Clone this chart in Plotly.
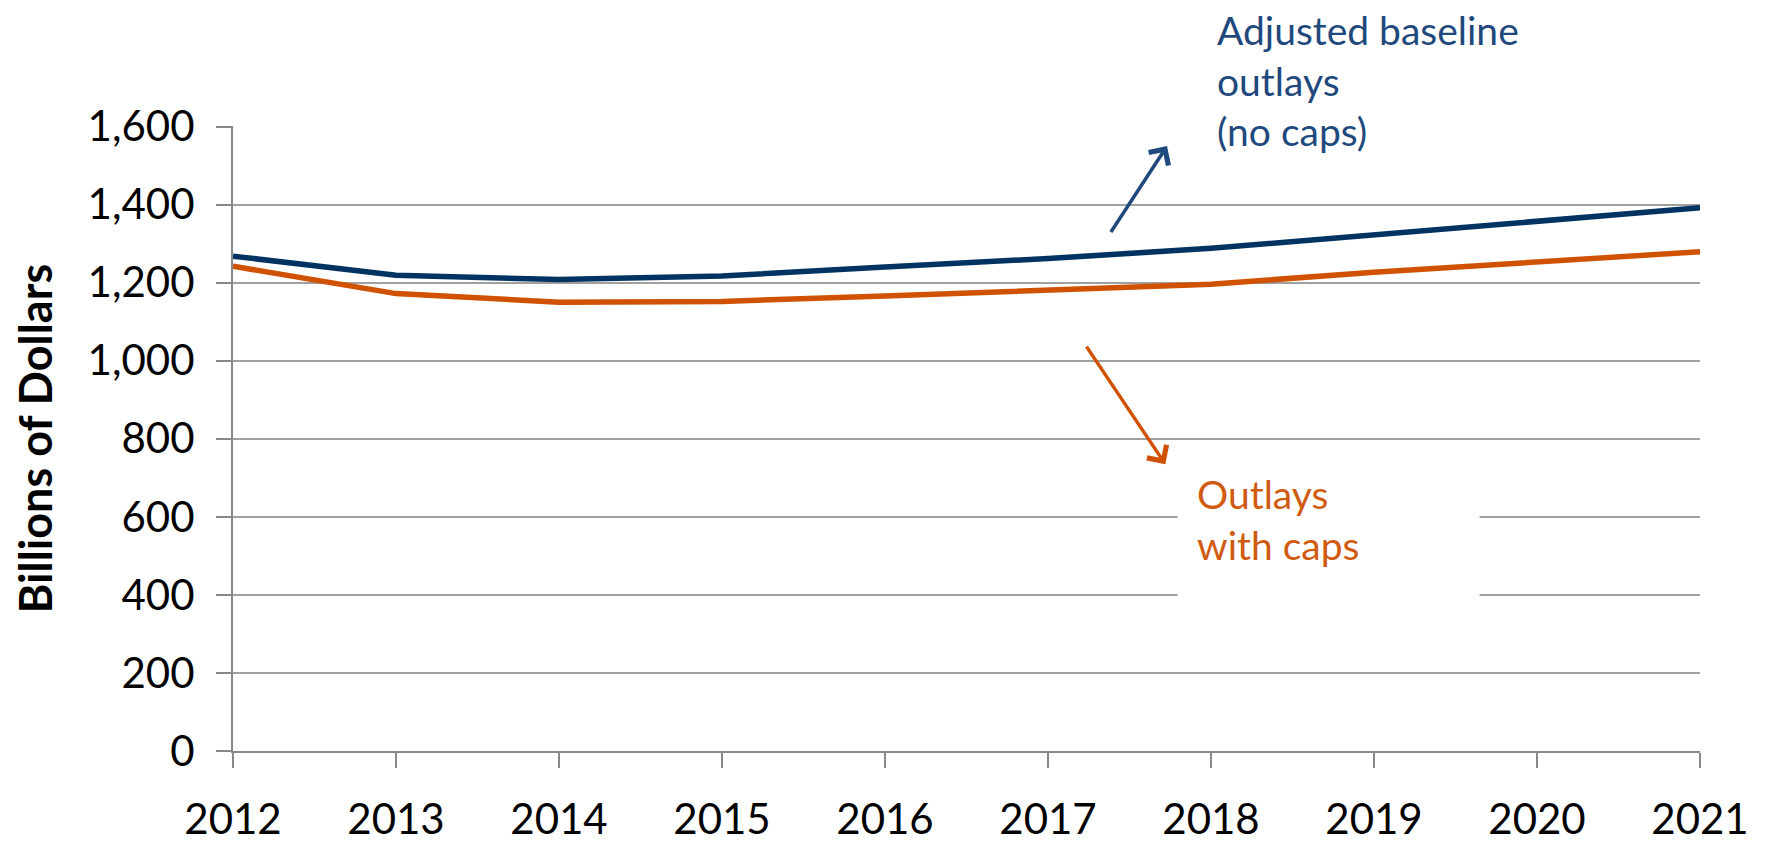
import plotly.graph_objects as go

years = [2012, 2013, 2014, 2015, 2016, 2017, 2018, 2019, 2020, 2021]
baseline_no_caps = [1268, 1219, 1208, 1217, 1240, 1262, 1288, 1323, 1358, 1392]
outlays_with_caps = [1242, 1172, 1150, 1152, 1166, 1181, 1196, 1227, 1254, 1279]
y_ticks = [0, 200, 400, 600, 800, 1000, 1200, 1400, 1600]
y_tick_labels = ["0", "200", "400", "600", "800", "1,000", "1,200", "1,400", "1,600"]

BLUE_LINE = "#003262"
ORANGE_LINE = "#D05200"
BLUE_TEXT = "#1F497D"
ORANGE_TEXT = "#D05A10"
FONT = "Lato"

fig = go.Figure()
fig.add_trace(go.Scatter(x=years, y=baseline_no_caps, mode="lines",
                         line=dict(color=BLUE_LINE, width=5.5), showlegend=False))
fig.add_trace(go.Scatter(x=years, y=outlays_with_caps, mode="lines",
                         line=dict(color=ORANGE_LINE, width=5.5), showlegend=False))

# white text boxes interrupting gridlines
fig.add_shape(type="rect", xref="x", yref="paper", x0=2017.906, x1=2020.175, y0=0.92, y1=1.2,
              fillcolor="white", line=dict(width=0), layer="above")
fig.add_shape(type="rect", xref="x", yref="y", x0=2017.795, x1=2019.648, y0=360, y1=719,
              fillcolor="white", line=dict(width=0), layer="above")

fig.add_annotation(x=2018.03, y=1.073, xref="x", yref="paper", xanchor="left", yanchor="middle",
                   align="left", showarrow=False, borderpad=0,
                   text="Adjusted baseline<br>outlays<br>(no caps)",
                   font=dict(family=FONT, size=39, color=BLUE_TEXT))
fig.add_annotation(x=2017.90, y=0.371, xref="x", yref="paper", xanchor="left", yanchor="middle",
                   align="left", showarrow=False,
                   text="Outlays<br>with caps",
                   font=dict(family=FONT, size=39, color=ORANGE_TEXT))

# arrows
fig.add_annotation(x=2017.73, y=1550, ax=2017.38, ay=1326, xref="x", yref="y", axref="x", ayref="y",
                   text="", showarrow=True, arrowhead=4, arrowsize=1.3, arrowwidth=3.5,
                   arrowcolor=BLUE_TEXT)
fig.add_annotation(x=2017.72, y=735, ax=2017.23, ay=1040, xref="x", yref="y", axref="x", ayref="y",
                   text="", showarrow=True, arrowhead=4, arrowsize=1.3, arrowwidth=3.5,
                   arrowcolor=ORANGE_LINE)

# page body has an 8px margin: size the figure to fill the rest of the window
fig.update_layout(
    width=1761, height=837,
    margin=dict(l=225, r=69, t=118, b=94),
    plot_bgcolor="white", paper_bgcolor="white",
    font=dict(family=FONT, color="black"),
)
fig.update_xaxes(range=[2012, 2021], tickmode="array", tickvals=years,
                 ticktext=[str(y) for y in years], automargin=False,
                 showgrid=False, zeroline=False, showline=True, linecolor="#888888", linewidth=2,
                 ticks="outside", ticklen=15, tickwidth=2, tickcolor="#888888",
                 tickfont=dict(family=FONT, size=42, color="black"), ticklabelstandoff=16)
fig.update_yaxes(range=[0, 1601.5], tickmode="array", tickvals=y_ticks, ticktext=y_tick_labels,
                 showgrid=True, gridcolor="#A0A0A0", gridwidth=2, zeroline=False, automargin=False,
                 showline=True, linecolor="#888888", linewidth=2,
                 ticks="outside", ticklen=15, tickwidth=2, tickcolor="#888888",
                 tickfont=dict(family=FONT, size=42, color="black"), ticklabelstandoff=13,
                 title=dict(text="<b>Billions of Dollars</b>", standoff=22,
                            font=dict(family=FONT, size=45, color="black")))

fig.write_html("out.html")
